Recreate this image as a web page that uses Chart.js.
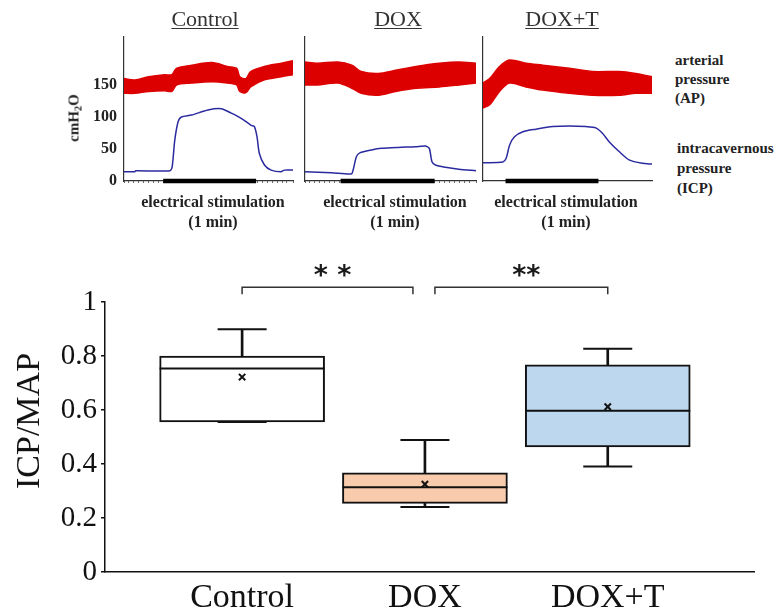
<!DOCTYPE html>
<html>
<head>
<meta charset="utf-8">
<title>ICP/MAP</title>
<script src="https://cdn.jsdelivr.net/npm/chart.js@4.4.1/dist/chart.umd.min.js"></script>
<style>
  html, body { margin: 0; padding: 0; background: #fff; }
  #page { position: relative; width: 779px; height: 614px; overflow: hidden;
          font-family: "Liberation Serif", "Times New Roman", serif; color: #222; }
  #page canvas { position: absolute; }
  .txt { position: absolute; white-space: nowrap; }
  .title { font-size: 22px; line-height: 22px; color: #333; text-decoration: underline;
           text-underline-offset: 2px; text-decoration-thickness: 1px; transform: translateX(-50%); }
  .stim { font-size: 16px; line-height: 20px; font-weight: bold; text-align: center; transform: translateX(-50%); }
  .side { font-size: 15px; line-height: 19px; font-weight: bold; }
  .rot { transform: translate(-50%, -50%) rotate(-90deg); }
  .rot sub { font-size: 0.7em; vertical-align: -0.25em; line-height: 0; }
</style>
</head>
<body>
<div id="page">
  <canvas id="trace1" width="236" height="200" style="left:60px;top:0"></canvas>
  <canvas id="trace2" width="180" height="200" style="left:300px;top:0"></canvas>
  <canvas id="trace3" width="178" height="200" style="left:478px;top:0"></canvas>
  <canvas id="boxChart" width="779" height="374" style="left:0;top:240px"></canvas>

  <!-- panel titles -->
  <div class="txt title" style="left:205px;top:8px">Control</div>
  <div class="txt title" style="left:398px;top:8px">DOX</div>
  <div class="txt title" style="left:562px;top:8px">DOX+T</div>

  <!-- stimulation captions -->
  <div class="txt stim" style="left:213px;top:192px">electrical stimulation<br>(1 min)</div>
  <div class="txt stim" style="left:395px;top:192px">electrical stimulation<br>(1 min)</div>
  <div class="txt stim" style="left:566px;top:192px">electrical stimulation<br>(1 min)</div>

  <!-- trace legends on the right -->
  <div class="txt side" style="left:675px;top:51px">arterial<br>pressure<br>(AP)</div>
  <div class="txt side" style="left:677px;top:138px;line-height:20px">intracavernous<br>pressure<br>(ICP)</div>

  <!-- axis titles -->
  <div class="txt rot" style="left:74px;top:118px;font-size:15px;font-weight:bold">cmH<sub>2</sub>O</div>
  <div class="txt rot" style="left:28px;top:421px;font-size:34px;color:#111">ICP/MAP</div>
</div>

<script>
// Groups
const groups = ['Control', 'DOX', 'DOX+T'];

// ICP/MAP box plot values
const boxMin    = [0.556, 0.241, 0.391];
const boxQ1     = [0.556, 0.254, 0.463];
const boxMedian = [0.754, 0.314, 0.597];
const boxQ3     = [0.800, 0.367, 0.767];
const boxMax    = [0.899, 0.489, 0.827];
const boxMean   = [0.722, 0.325, 0.612];
const ratioTicks = [0, 0.2, 0.4, 0.6, 0.8, 1];

// Significance brackets (group index pairs)
const sigFrom = [0, 1];
const sigTo = [1, 2];
const sigMarks = ['* *', '**'];
const sigLevel = 1.055;

// Pressure traces: time (s) and pressure (cmH2O)
const pressureTicks = [0, 50, 100, 150];

const ctrlApTime = [0, 7, 16, 26.5, 31, 34, 44, 57, 67, 73, 75, 79, 82, 91, 102, 109.5];
const ctrlApHigh = [160, 158, 163, 166, 166, 176, 181, 185, 179, 176, 163, 160, 171, 179, 184, 188];
const ctrlApLow  = [137, 137, 140, 141, 140, 150, 153, 155, 153, 150, 140, 138, 147, 158, 163, 166];
const ctrlIcpTime = [0, 7, 7.5, 29.7, 31.2, 32.9, 35.1, 37.2, 43.7, 54.4, 63, 69.5, 75.9, 82.4, 84.5, 86.2, 87.7, 91, 95.3, 101.7, 103.9, 109.5];
const ctrlIcp     = [14.5, 14.5, 16, 16, 22, 64, 93, 100, 103, 111, 113, 106, 98, 87, 85, 69, 43, 25, 17, 14.5, 17, 17];
const ctrlStim = [25.4, 85.6];

const doxApTime = [0, 8, 21, 30, 36, 47, 58, 71, 86, 98.5, 109.5];
const doxApHigh = [186, 184, 186, 181, 171, 168, 173, 179, 184, 186, 184];
const doxApLow  = [150, 150, 153, 145, 137, 134, 140, 145, 147, 150, 153];
const doxIcpTime = [0, 17, 29.7, 30.8, 32.9, 35.1, 42.6, 49.1, 59.8, 70.6, 77, 79.6, 81.3, 83.5, 89.9, 98.5, 109.5];
const doxIcp     = [14.5, 13, 11, 17, 38, 44, 48.5, 51, 52.5, 53.5, 54.7, 51, 30, 25, 21.4, 18.3, 16];
const doxStim = [22.8, 83];

const doxtApTime = [0, 4.3, 10.7, 17.2, 27.9, 38.7, 55.9, 71, 88.2, 98.9, 109.5];
const doxtApHigh = [153, 160, 179, 189, 184, 181, 176, 171, 171, 168, 163];
const doxtApLow  = [114, 119, 140, 153, 147, 142, 137, 134, 134, 137, 137];
const doxtIcpTime = [0, 12.9, 15, 17.2, 20.4, 25.8, 34.4, 45.2, 55.9, 66.7, 73.1, 77.4, 81.7, 88.2, 94.6, 103.2, 109.5];
const doxtIcp     = [28.6, 29.7, 35.4, 56, 69, 77, 81, 85, 86, 85, 83, 74.5, 61.5, 46, 33, 27.6, 26.5];
const doxtStim = [14.6, 74.8];

// Styles
const SERIF = '"Liberation Serif", "Times New Roman", serif';
const INK = '#111';
const AP_RED = '#dd0000';
const ICP_BLUE = '#2b2ba0';
const boxFill = ['#ffffff', '#f8cbad', '#bdd7ee'];

Chart.defaults.font.family = SERIF;

function toPoints(xs, ys) {
    return xs.map((x, i) => ({ x: x, y: ys[i] }));
}

// One small recording panel (AP band + ICP line + stimulation bar)
function makeTraceChart(canvasId, apTime, apHigh, apLow, icpTime, icp, stim, opts) {
    const ctx = document.getElementById(canvasId).getContext('2d');
    return new Chart(ctx, {
        type: 'line',
        data: {
            datasets: [
                {
                    label: 'AP upper',
                    data: toPoints(apTime, apHigh),
                    borderColor: AP_RED,
                    backgroundColor: AP_RED,
                    borderWidth: 1.5,
                    pointRadius: 0,
                    fill: '+1',
                    tension: 0.3
                },
                {
                    label: 'AP lower',
                    data: toPoints(apTime, apLow),
                    borderColor: AP_RED,
                    borderWidth: 1.5,
                    pointRadius: 0,
                    fill: false,
                    tension: 0.3
                },
                {
                    label: 'ICP',
                    data: toPoints(icpTime, icp),
                    borderColor: ICP_BLUE,
                    borderWidth: 1.5,
                    pointRadius: 0,
                    fill: false,
                    tension: 0.25
                },
                {
                    label: 'stimulation',
                    data: [{ x: stim[0], y: 0 }, { x: stim[1], y: 0 }],
                    borderColor: '#000',
                    borderWidth: 4.5,
                    borderCapStyle: 'butt',
                    pointRadius: 0,
                    clip: false
                }
            ]
        },
        options: {
            responsive: false,
            animation: false,
            events: [],
            layout: { autoPadding: false, padding: { top: 37, right: opts.padRight, left: 0, bottom: 0 } },
            plugins: { legend: { display: false }, tooltip: { enabled: false } },
            scales: {
                x: {
                    type: 'linear',
                    min: 0,
                    max: 109.5,
                    ticks: { display: false, stepSize: 3.2 },
                    grid: { display: opts.minorTicks, drawOnChartArea: false, tickLength: 2, color: '#666' },
                    border: { color: '#333', width: 1.2 },
                    afterFit: scale => { scale.height = 19; }
                },
                y: {
                    min: 0,
                    max: 225,
                    afterBuildTicks: axis => { axis.ticks = pressureTicks.map(v => ({ value: v })); },
                    ticks: {
                        display: opts.showLabels,
                        color: '#222',
                        padding: 7,
                        font: { family: SERIF, size: 16, weight: 'bold' }
                    },
                    grid: { display: false, drawTicks: false },
                    border: { color: '#333', width: 1.2 },
                    afterFit: scale => { scale.width = opts.axisWidth; }
                }
            }
        }
    });
}

// Significance brackets with stars above the boxes
const bracketPlugin = {
    id: 'bracketPlugin',
    afterDatasetsDraw(chart) {
        const { ctx, scales } = chart;
        const yLine = scales.y.getPixelForValue(sigLevel);
        ctx.save();
        ctx.strokeStyle = '#333';
        ctx.lineWidth = 1.5;
        ctx.fillStyle = '#1a1a1a';
        ctx.font = 'bold 27px "DejaVu Sans", sans-serif';
        ctx.textAlign = 'center';
        ctx.textBaseline = 'alphabetic';
        sigFrom.forEach((a, i) => {
            const b = sigTo[i];
            let x1 = scales.x.getPixelForValue(a);
            let x2 = scales.x.getPixelForValue(b);
            // leave a little gap where two brackets share a group
            if (sigTo.includes(a)) x1 += 10;
            if (sigFrom.includes(b)) x2 -= 12;
            ctx.beginPath();
            ctx.moveTo(x1, yLine + 7);
            ctx.lineTo(x1, yLine);
            ctx.lineTo(x2, yLine);
            ctx.lineTo(x2, yLine + 7);
            ctx.stroke();
            ctx.fillText(sigMarks[i], (x1 + x2) / 2 + 5, yLine - 3);
        });
        ctx.restore();
    }
};

function makeBoxChart() {
    const ctx = document.getElementById('boxChart').getContext('2d');
    const idx = groups.map((g, i) => i);
    const caps = toPoints(idx, boxMax).concat(toPoints(idx, boxMin));
    const whiskers = idx.map(i => ({ x: i, y: [boxQ3[i], boxMax[i]] }))
        .concat(idx.map(i => ({ x: i, y: [boxMin[i], boxQ1[i]] })));

    return new Chart(ctx, {
        type: 'scatter',
        data: {
            datasets: [
                {
                    label: 'mean',
                    data: toPoints(idx, boxMean),
                    pointStyle: 'crossRot',
                    pointRadius: 4.5,
                    pointBorderColor: INK,
                    pointBorderWidth: 2,
                    order: 0
                },
                {
                    label: 'median',
                    data: toPoints(idx, boxMedian),
                    pointStyle: 'line',
                    pointRadius: 82.5,
                    pointBorderColor: INK,
                    pointBorderWidth: 2,
                    order: 1
                },
                {
                    label: 'whisker caps',
                    data: caps,
                    pointStyle: 'line',
                    pointRadius: 24.5,
                    pointBorderColor: INK,
                    pointBorderWidth: 2,
                    order: 1
                },
                {
                    type: 'bar',
                    label: 'IQR',
                    data: idx.map(i => ({ x: i, y: [boxQ1[i], boxQ3[i]] })),
                    backgroundColor: boxFill,
                    borderColor: INK,
                    borderWidth: 2,
                    borderSkipped: false,
                    barThickness: 165,
                    grouped: false,
                    order: 2
                },
                {
                    type: 'bar',
                    label: 'whiskers',
                    data: whiskers,
                    backgroundColor: INK,
                    borderWidth: 0,
                    barThickness: 2,
                    grouped: false,
                    order: 3
                }
            ]
        },
        options: {
            responsive: false,
            animation: false,
            events: [],
            layout: { autoPadding: false, padding: { top: 62, right: 25, left: 0, bottom: 0 } },
            plugins: { legend: { display: false }, tooltip: { enabled: false } },
            scales: {
                x: {
                    type: 'linear',
                    min: -0.75,
                    max: 2.8,
                    offset: false,
                    afterBuildTicks: axis => { axis.ticks = groups.map((g, i) => ({ value: i })); },
                    ticks: {
                        callback: v => groups[v],
                        color: INK,
                        padding: 6,
                        maxRotation: 0,
                        autoSkip: false,
                        font: { family: SERIF, size: 34 }
                    },
                    grid: { display: false, drawTicks: false, offset: false },
                    border: { color: INK, width: 1.5 },
                    afterFit: scale => { scale.height = 42; }
                },
                y: {
                    type: 'linear',
                    min: 0,
                    max: 1,
                    afterBuildTicks: axis => { axis.ticks = ratioTicks.map(v => ({ value: v })); },
                    ticks: {
                        callback: v => String(v),
                        color: INK,
                        padding: 4,
                        font: { family: SERIF, size: 29 }
                    },
                    grid: { drawOnChartArea: false, drawTicks: true, tickLength: 4, color: INK, lineWidth: 1.5 },
                    border: { color: INK, width: 1.5 },
                    afterFit: scale => { scale.width = 105; }
                }
            }
        },
        plugins: [bracketPlugin]
    });
}

function init() {
    makeTraceChart('trace1', ctrlApTime, ctrlApHigh, ctrlApLow, ctrlIcpTime, ctrlIcp, ctrlStim,
        { axisWidth: 64, padRight: 3, showLabels: true, minorTicks: true });
    makeTraceChart('trace2', doxApTime, doxApHigh, doxApLow, doxIcpTime, doxIcp, doxStim,
        { axisWidth: 5, padRight: 4, showLabels: false, minorTicks: true });
    makeTraceChart('trace3', doxtApTime, doxtApHigh, doxtApLow, doxtIcpTime, doxtIcp, doxtStim,
        { axisWidth: 5, padRight: 4, showLabels: false, minorTicks: false });
    makeBoxChart();
}

window.onload = init;
</script>
</body>
</html>
